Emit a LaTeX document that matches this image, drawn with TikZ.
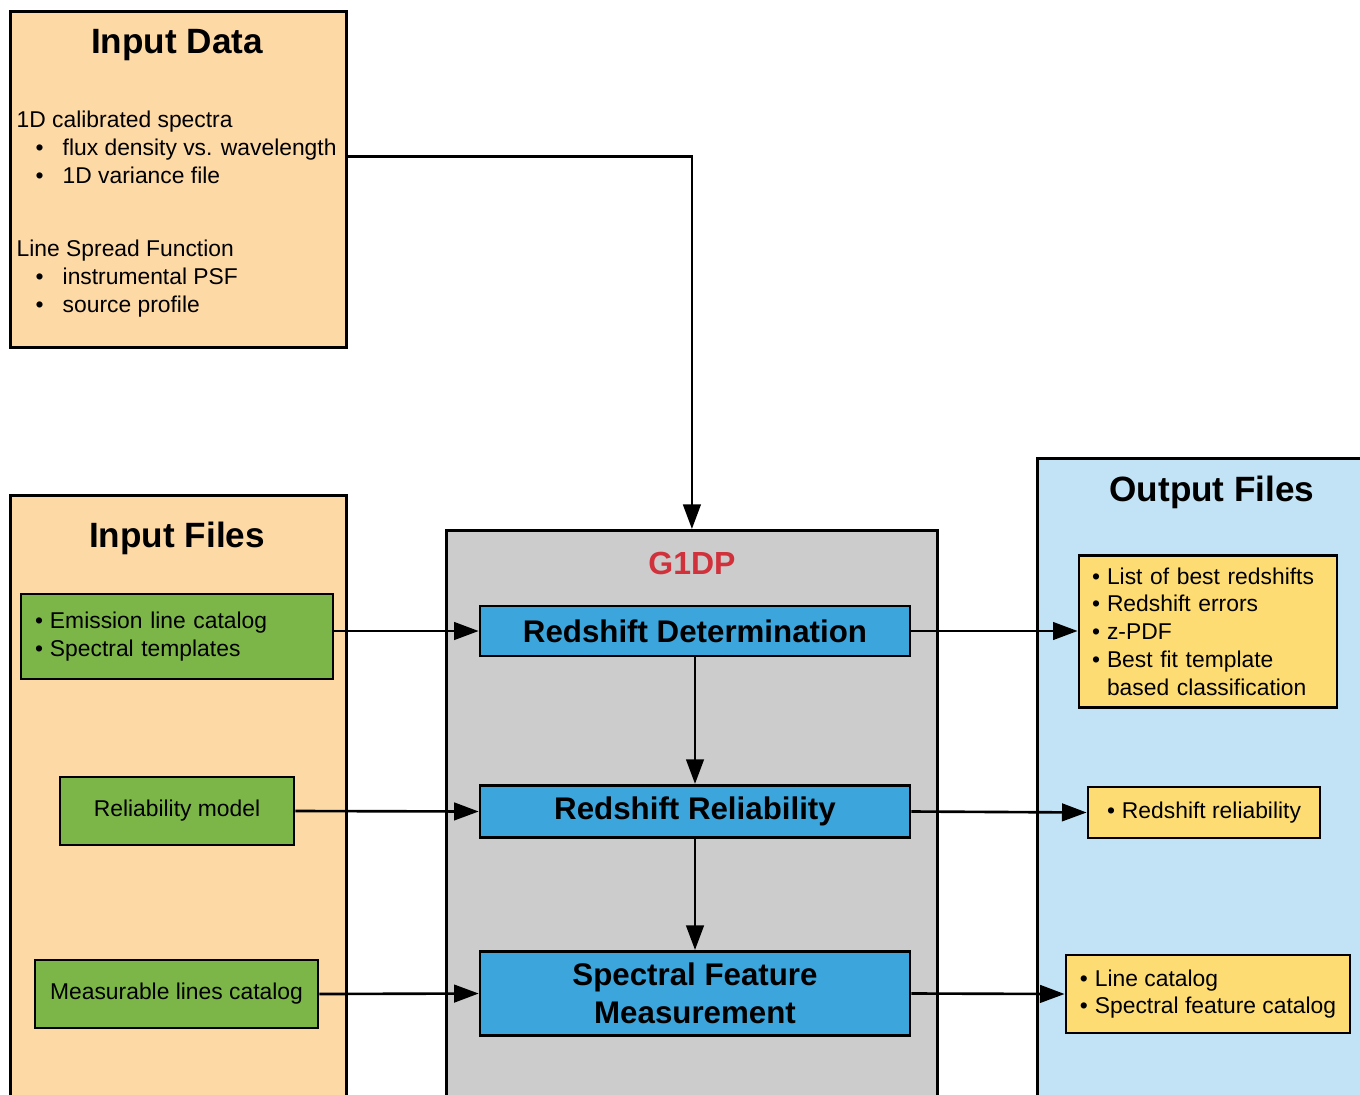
\documentclass[tikz,border=0pt]{standalone}
\usepackage{fontspec}
\setmainfont{Liberation Sans}
\usetikzlibrary{arrows.meta}

\definecolor{peach}{HTML}{FDD9A6}
\definecolor{leaf}{HTML}{7CB548}
\definecolor{skyblue}{HTML}{3BA5DC}
\definecolor{paleblue}{HTML}{C1E3F5}
\definecolor{butter}{HTML}{FDDD73}
\definecolor{boxgray}{HTML}{CCCCCC}
\definecolor{g1red}{HTML}{D0313A}

\newcommand{\dbul}{\makebox[4.6mm][l]{\hspace{1.9mm}\textbullet}}
\newcommand{\ybul}{\makebox[1.5mm][l]{\textbullet}}

\begin{document}
\begin{tikzpicture}[
		panel/.style={draw=black,line width=0.8pt,anchor=north west,inner sep=0pt},
		title/.style={font=\fontsize{10}{12}\selectfont\bfseries},
		body/.style={font=\fontsize{6.5}{7.9}\selectfont},
		greenbox/.style={draw=black,line width=0.8pt,fill=leaf,body},
		bluebox/.style={draw=black,line width=0.75pt,fill=skyblue,minimum width=4.3cm,align=center,font=\fontsize{8.9}{10.8}\selectfont\bfseries},
		yellowbox/.style={draw=black,line width=0.8pt,fill=butter,body},
		arr/.style={line width=0.75pt,-{Triangle[length=7pt,width=5pt]}}
	]
		\clip (0,0) rectangle (13.6,-10.94);
		\fill[white] (0,0) rectangle (13.6,-10.94);

		% containers
		\node[panel,fill=peach,minimum width=3.36cm,minimum height=3.36cm] (indata) at (0.09,-0.10) {};
		\node[panel,fill=peach,minimum width=3.36cm,minimum height=6.3cm] (infiles) at (0.09,-4.94) {};
		\node[panel,fill=boxgray,minimum width=4.91cm,minimum height=5.9cm] (g1dp) at (4.45,-5.29) {};
		\node[panel,fill=paleblue,minimum width=3.5cm,minimum height=6.6cm] (outfiles) at (10.36,-4.57) {};

		% titles
		\node[title] (indatatitle) at (1.77,-0.45) {Input Data};
		\node[title] (infilestitle) at (1.77,-5.38) {Input Files};
		\node[font=\fontsize{9.1}{11}\selectfont\bfseries,text=g1red] (g1dptitle) at (6.92,-5.63) {G1DP};
		\node[title] (outfilestitle) at (12.12,-4.92) {Output Files};

		% input data text
		\node[body,anchor=west,align=left,inner sep=0pt] (spectra) at (0.16,-1.50) {\strut 1D calibrated spectra\\
			\strut\dbul flux density vs. wavelength\\
			\strut\dbul 1D variance file};
		\node[body,anchor=west,align=left,inner sep=0pt] (lsf) at (0.16,-2.79) {\strut Line Spread Function\\
			\strut\dbul instrumental PSF\\
			\strut\dbul source profile};

		% input files
		\node[greenbox,minimum width=3.12cm,minimum height=0.85cm,text width=2.84cm,align=left] (emission) at (1.77,-6.365) {\ybul Emission line catalog\\ \ybul Spectral templates};
		\node[greenbox,minimum width=2.34cm,minimum height=0.68cm] (relmodel) at (1.77,-8.11) {Reliability model};
		\node[greenbox,minimum width=2.83cm,minimum height=0.68cm] (measlines) at (1.765,-9.94) {Measurable lines catalog};

		% G1DP steps
		\node[bluebox,minimum height=0.5cm] (zdet) at (6.95,-6.31) {Redshift Determination};
		\node[bluebox,minimum height=0.49cm] (zrel) at (6.95,-8.115) {Redshift Reliability};
		\node[bluebox,minimum height=0.79cm] (sfm) at (6.95,-9.935) {Spectral Feature\\Measurement};

		% output files
		\node[yellowbox,minimum width=2.58cm,minimum height=1.51cm,text width=2.32cm,align=left] (zlist) at (12.08,-6.315) {\ybul List of best redshifts\\ \ybul Redshift errors\\ \ybul z-PDF\\ \ybul Best fit template\\ \hspace*{1.5mm}based classification};
		\node[yellowbox,minimum width=2.32cm,minimum height=0.51cm] (zrelout) at (12.04,-8.125) {\ybul Redshift reliability};
		\node[yellowbox,minimum width=2.84cm,minimum height=0.78cm,align=left] (linecat) at (12.08,-9.94) {\ybul Line catalog\\ \ybul Spectral feature catalog};

		% connectors
		\draw[arr] ([yshift=2.3mm]indata.east) -| (g1dp.north);
		\draw[arr] (emission.east |- zdet.west) -- (zdet.west);
		\draw[arr] (relmodel.east) -- (zrel.west);
		\draw[arr] (measlines.east) -- (sfm.west);
		\draw[arr] (zdet.south) -- (zrel.north);
		\draw[arr] (zrel.south) -- (sfm.north);
		\draw[arr] (zdet.east) -- (zlist.west |- zdet.east);
		\draw[arr] (zrel.east) -- (zrelout.west);
		\draw[arr] (sfm.east) -- (linecat.west);
	\end{tikzpicture}
\end{document}
